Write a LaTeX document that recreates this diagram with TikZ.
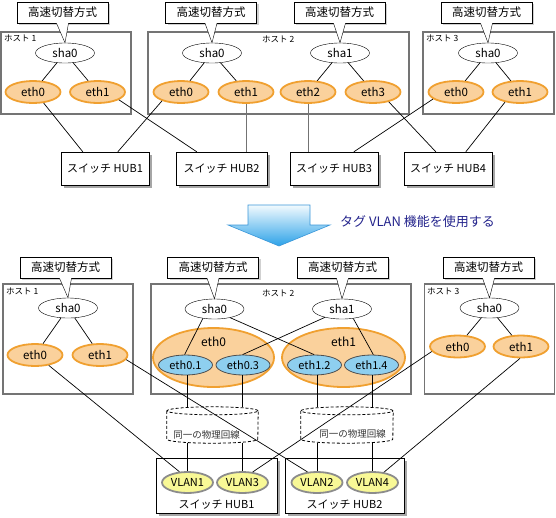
\documentclass[tikz,border=0pt]{standalone}
\usepackage{fontspec}
\setmainfont{Noto Sans CJK JP}
\usetikzlibrary{shapes.geometric,shadows,calc}
\definecolor{ofill}{HTML}{FAD19C}
\definecolor{odraw}{HTML}{F0A030}
\definecolor{bfill}{HTML}{8ECFEF}
\definecolor{bdraw}{HTML}{505050}
\definecolor{yfill}{HTML}{F8F896}
\definecolor{ydraw}{HTML}{8C8C8C}
\definecolor{hostc}{HTML}{747474}
\definecolor{navy}{HTML}{24248C}
\definecolor{arrtop}{HTML}{F2FAFE}
\definecolor{arrbot}{HTML}{2CA2E8}
\definecolor{arrdraw}{HTML}{3A96D8}
\begin{document}
\begin{tikzpicture}[x=1pt,y=-1pt,
  callout/.style={draw,fill=white,minimum width=91pt,minimum height=21pt,inner sep=0pt,
    font=\fontsize{11.5}{13}\selectfont,
    drop shadow={shadow xshift=2pt,shadow yshift=-2pt,fill=black!18,opacity=1}},
  pointer/.style={draw,fill=white},
  hostbox/.style={draw=hostc,line width=1.1pt,minimum height=#1,inner sep=0pt},
  hlabel/.style={anchor=north west,inner sep=0pt,font=\fontsize{8.5}{10}\selectfont},
  shanode/.style={ellipse,draw,fill=white,minimum width=59pt,minimum height=20pt,inner sep=0pt,
    font=\fontsize{11.5}{13}\selectfont},
  ethnode/.style={ellipse,draw=odraw,line width=1.8pt,fill=ofill,minimum width=55pt,minimum height=22pt,
    inner sep=0pt,font=\fontsize{11.5}{13}\selectfont},
  bigeth/.style={ellipse,draw=odraw,line width=1.8pt,fill=ofill,minimum height=59pt,inner sep=0pt},
  subeth/.style={ellipse,draw=bdraw,line width=0.8pt,fill=bfill,minimum width=54pt,minimum height=20pt,
    inner sep=0pt,font=\fontsize{11}{13}\selectfont},
  vlan/.style={ellipse,draw=ydraw,line width=1.8pt,fill=yfill,minimum width=51pt,minimum height=21pt,
    inner sep=0pt,font=\fontsize{11}{13}\selectfont},
  hub/.style={draw,fill=white,inner sep=0pt,font=\fontsize{11}{13}\selectfont,
    drop shadow={shadow xshift=2.5pt,shadow yshift=-2.5pt,fill=black!35,opacity=1}},
  txt/.style={inner sep=0pt,font=\fontsize{11}{13}\selectfont},
  cyltext/.style={inner sep=0pt,font=\fontsize{9.5}{11}\selectfont,text=black!80},
  cylarea/.style={minimum height=36pt,inner sep=0pt},
  link/.style={line width=0.7pt},
  glink/.style={line width=0.9pt,draw=black!55},
  dash cyl/.style={line width=0.8pt,dash pattern=on 3pt off 2pt}
]
\useasboundingbox (0,0) rectangle (556,517);

% ================= TOP =================
\node[hostbox=82pt,minimum width=130pt] (H1) at (66,73) {};
\node[hostbox=82pt,minimum width=261pt] (H2) at (278.5,73) {};
\node[hostbox=82pt,minimum width=131pt] (H3) at (488.5,73) {};
\node[hlabel] (H1l) at (4,35) {ホスト 1};
\node[hlabel] (H2l) at (262,36) {ホスト 2};
\node[hlabel] (H3l) at (426,35) {ホスト 3};

\node[callout] (C1) at (62.5,12.5) {高速切替方式};
\node[callout] (C2) at (211,12.5) {高速切替方式};
\node[callout] (C3) at (339.5,12.5) {高速切替方式};
\node[callout] (C4) at (486.5,12.5) {高速切替方式};

\node[shanode] (Ts1) at (65,53) {sha0};
\node[shanode] (Ts2) at (212,53) {sha0};
\node[shanode] (Ts3) at (340,53) {sha1};
\node[shanode] (Ts4) at (488,53) {sha0};

\foreach \c/\s in {C1/Ts1,C2/Ts2,C3/Ts3,C4/Ts4}{
  \draw[pointer] ($(\c.south)+(-6,0)$) -- (\s.north) -- ($(\c.south)+(6,0)$);
}

\node[ethnode] (Te1) at (33,92) {eth0};
\node[ethnode] (Te2) at (97.5,92) {eth1};
\node[ethnode] (Te3) at (181,92) {eth0};
\node[ethnode] (Te4) at (246,92) {eth1};
\node[ethnode] (Te5) at (308,92) {eth2};
\node[ethnode] (Te6) at (373,92) {eth3};
\node[ethnode] (Te7) at (456,92) {eth0};
\node[ethnode] (Te8) at (520,92) {eth1};

\node[hub,minimum width=88pt,minimum height=33pt] (Th1) at (105,168.5) {スイッチ HUB1};
\node[hub,minimum width=91pt,minimum height=33pt] (Th2) at (221.5,168.5) {スイッチ HUB2};
\node[hub,minimum width=88pt,minimum height=33pt] (Th3) at (334,168.5) {スイッチ HUB3};
\node[hub,minimum width=88pt,minimum height=33pt] (Th4) at (448,168.5) {スイッチ HUB4};

\draw[link] (Ts1) -- (Te1);
\draw[link] (Ts1) -- (Te2);
\draw[link] (Ts2) -- (Te3);
\draw[link] (Ts2) -- (Te4);
\draw[link] (Ts3) -- (Te5);
\draw[link] (Ts3) -- (Te6);
\draw[link] (Ts4) -- (Te7);
\draw[link] (Ts4) -- (Te8);

\draw[link] (Te1.-46) -- ($(Th1.north west)+(22,0)$);
\draw[link] (Te2.-20) -- ($(Th2.north west)+(21,0)$);
\draw[link] (Te3.205) -- ($(Th1.north west)+(57,0)$);
\draw[glink] (Te4.south) -- (Te4.south |- Th2.north);
\draw[glink] (Te5.south) -- (Te5.south |- Th3.north);
\draw[link] (Te6.-32) -- ($(Th4.north west)+(32,0)$);
\draw[link] (Te7.197) -- ($(Th3.north west)+(64,0)$);
\draw[link] (Te8.214) -- ($(Th4.north west)+(62,0)$);

% ================= ARROW =================
\shade[top color=arrtop,bottom color=arrbot,draw=arrdraw,line width=0.6pt]
  (248,205) -- (310,205) -- (310,225) -- (330,225) -- (279,246) -- (228,225) -- (248,225) -- cycle;
\node[anchor=west,inner sep=0pt,text=navy,font=\fontsize{13}{15}\selectfont] (AT) at (340,222) {タグ VLAN 機能を使用する};

% ================= BOTTOM =================
\node[hostbox=110pt,minimum width=130pt] (BH1) at (68,339) {};
\node[hostbox=110pt,minimum width=260pt] (BH2) at (281,339) {};
\node[hostbox=110pt,minimum width=130pt] (BH3) at (489.5,339) {};
\node[hlabel] (BH1l) at (6,288) {ホスト 1};
\node[hlabel] (BH2l) at (262,290) {ホスト 2};
\node[hlabel] (BH3l) at (427,288) {ホスト 3};

\node[callout] (C5) at (65.5,267.5) {高速切替方式};
\node[callout] (C6) at (213,267.5) {高速切替方式};
\node[callout] (C7) at (342.5,267.5) {高速切替方式};
\node[callout] (C8) at (488.5,267.5) {高速切替方式};

\node[shanode] (Bs1) at (68,308) {sha0};
\node[shanode] (Bs2) at (214.5,309) {sha0};
\node[shanode] (Bs3) at (342,309) {sha1};
\node[shanode] (Bs4) at (489.5,308) {sha0};

\foreach \c/\s in {C5/Bs1,C6/Bs2,C7/Bs3,C8/Bs4}{
  \draw[pointer] ($(\c.south)+(-6,0)$) -- (\s.north) -- ($(\c.south)+(6,0)$);
}

\node[ethnode] (Be1) at (35,355) {eth0};
\node[ethnode] (Be2) at (100,355) {eth1};
\node[ethnode] (Be7) at (457.5,346.5) {eth0};
\node[ethnode] (Be8) at (521,346.5) {eth1};

\node[bigeth,minimum width=121pt] (Bb0) at (213.5,357.5) {};
\node[bigeth,minimum width=123pt] (Bb1) at (343.5,357.5) {};
\node[txt,font=\fontsize{12}{14}\selectfont] (Bb0l) at (213.5,342) {eth0};
\node[txt,font=\fontsize{12}{14}\selectfont] (Bb1l) at (343.5,342) {eth1};

\node[subeth] (S01) at (185.5,365) {eth0.1};
\node[subeth] (S03) at (243,365) {eth0.3};
\node[subeth] (S12) at (314.5,365) {eth1.2};
\node[subeth] (S14) at (371.5,365) {eth1.4};

\node[hub,minimum width=121pt,minimum height=55pt] (HB1) at (216.5,485.5) {};
\node[hub,minimum width=119pt,minimum height=55pt] (HB2) at (344.5,485.5) {};
\node[txt] (HB1l) at (216.5,504.5) {スイッチ HUB1};
\node[txt] (HB2l) at (344.5,504.5) {スイッチ HUB2};

\node[vlan] (V1) at (187.5,482.5) {VLAN1};
\node[vlan] (V3) at (242.5,482.5) {VLAN3};
\node[vlan] (V2) at (317,482.5) {VLAN2};
\node[vlan] (V4) at (372.5,482.5) {VLAN4};

% cylinders
\node[cylarea,minimum width=91pt] (Cy1) at (212.5,425) {};
\node[cylarea,minimum width=92pt] (Cy2) at (347,425) {};
\draw[dash cyl] ($(Cy1.north)+(0,4)$) ellipse [x radius=45.5pt,y radius=4pt];
\draw[dash cyl] ($(Cy1.north west)+(0,4)$) -- ($(Cy1.south west)+(0,-4)$)
  arc[start angle=180,end angle=360,x radius=45.5pt,y radius=4pt] -- ($(Cy1.north east)+(0,4)$);
\draw[dash cyl] ($(Cy2.north)+(0,4)$) ellipse [x radius=46pt,y radius=4pt];
\draw[dash cyl] ($(Cy2.north west)+(0,4)$) -- ($(Cy2.south west)+(0,-4)$)
  arc[start angle=180,end angle=360,x radius=46pt,y radius=4pt] -- ($(Cy2.north east)+(0,4)$);
\node[cyltext] (Cy1t) at (206.5,435) {同一の物理回線};
\node[cyltext] (Cy2t) at (352.5,434) {同一の物理回線};

% links inside hosts
\draw[link] (Bs1) -- (Be1);
\draw[link] (Bs1) -- (Be2);
\draw[link] (Bs4) -- (Be7);
\draw[link] (Bs4) -- (Be8);
\draw[link] (Bs2.219) -- (S01.95);
\draw[link] (Bs2.-29) -- (S12.92);
\draw[link] (Bs3.206) -- (S03.92);
\draw[link] (Bs3.-40) -- (S14.80);

% vertical links through cylinders
\foreach \s/\v/\cy in {S01/V1/Cy1,S03/V3/Cy1,S12/V2/Cy2,S14/V4/Cy2}{
  \draw[link] (\v.north |- \s.south) -- (\v.north |- \cy.north);
  \draw[link] (\v.north |- \cy.south) -- (\v.north);
}

% diagonal links
\draw[link] (Be1.-37) -- (V1.127);
\draw[link] (Be2.-10) -- (V2.132);
\draw[link] (Be7.191) -- (V3.46);
\draw[link] (Be8.-95) -- (V4.42);
\end{tikzpicture}
\end{document}
